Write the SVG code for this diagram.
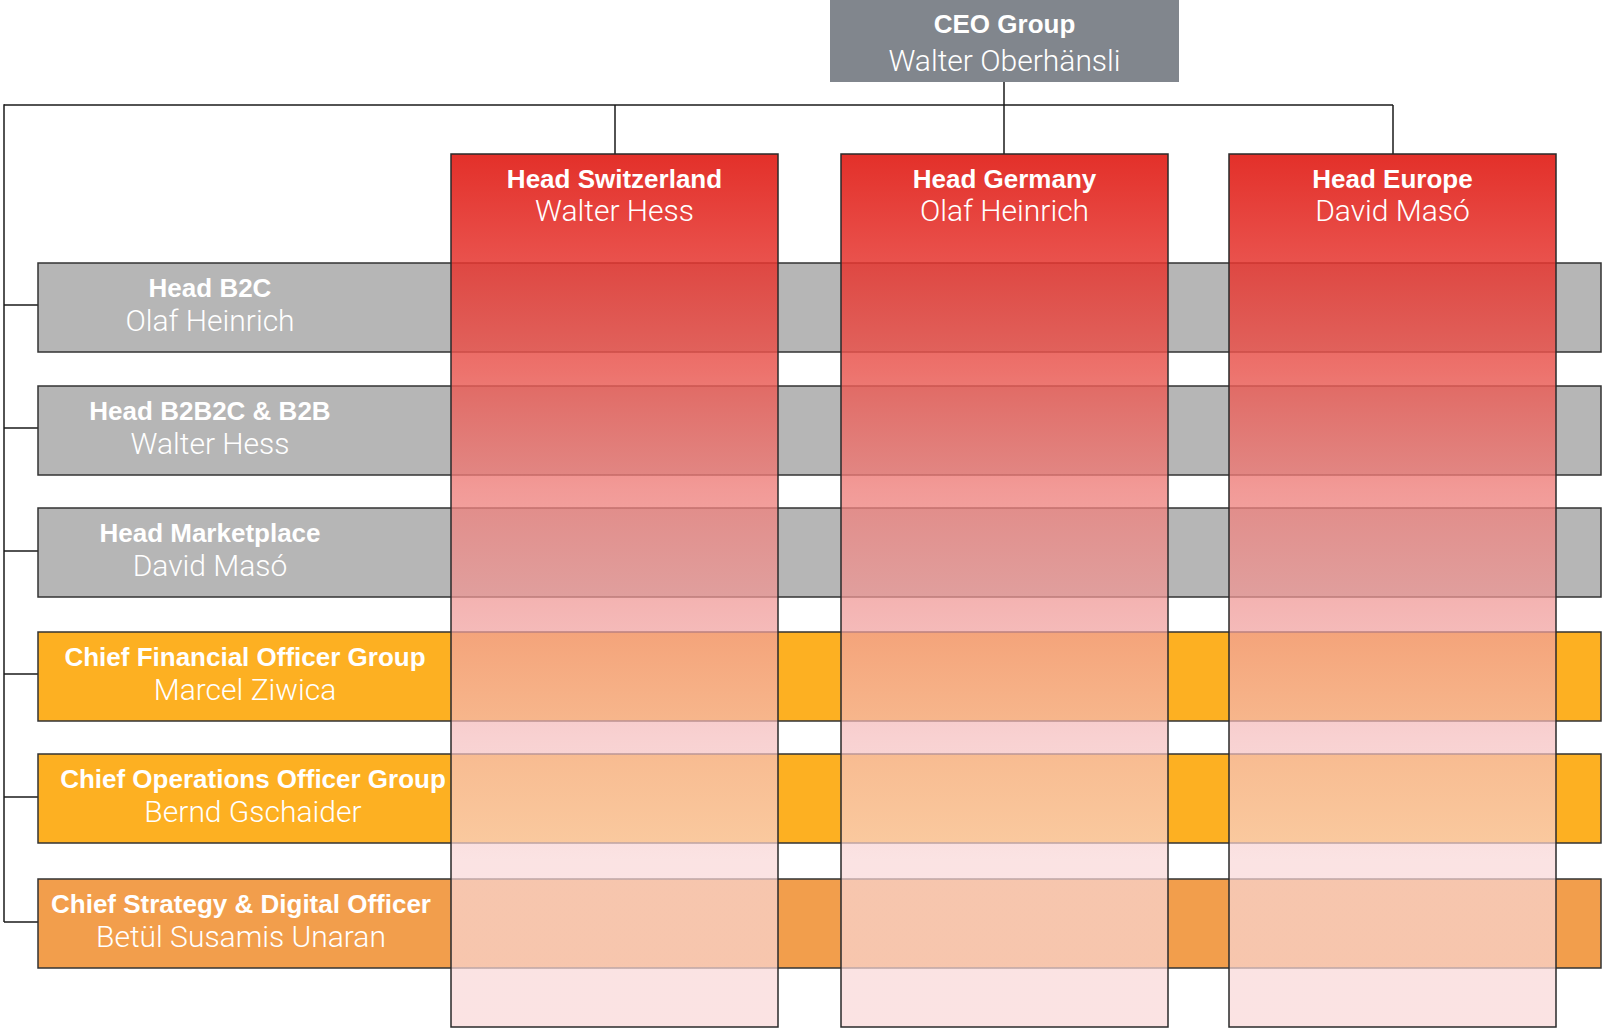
<svg xmlns="http://www.w3.org/2000/svg" width="1603" height="1033" viewBox="0 0 1603 1033">
  <defs>
    <linearGradient id="colGrad" x1="0" y1="0" x2="0" y2="1">
      <stop offset="0" stop-color="#E01912" stop-opacity="0.9"/>
      <stop offset="0.116" stop-color="#E5332D" stop-opacity="0.86"/>
      <stop offset="0.247" stop-color="#E95750" stop-opacity="0.84"/>
      <stop offset="0.386" stop-color="#EE7E7A" stop-opacity="0.78"/>
      <stop offset="0.527" stop-color="#F09A98" stop-opacity="0.72"/>
      <stop offset="0.668" stop-color="#F5BDBD" stop-opacity="0.7"/>
      <stop offset="0.809" stop-color="#F9D7D7" stop-opacity="0.7"/>
      <stop offset="1" stop-color="#F9D7D7" stop-opacity="0.7"/>
    </linearGradient>
    <style>
      .conn { stroke: #1a1a1a; stroke-width: 1.5; fill: none; }
      .box { stroke: #333333; stroke-width: 1.5; }
      .gray { fill: #B6B6B6; }
      .orange { fill: #FDB022; }
      .dorange { fill: #F29E4C; }
      .ceo { fill: #81868D; }
      .col { fill: url(#colGrad); stroke: #2a2a2a; stroke-width: 1.5; }
      .t { font-family: "Liberation Sans", Arial, sans-serif; font-weight: bold; font-size: 26px; fill: #ffffff; text-anchor: middle; }
      .n { font-family: Roboto, "Liberation Sans", sans-serif; font-weight: 300; font-size: 30px; fill: #ffffff; text-anchor: middle; }
    </style>
  </defs>

  <g id="connectors">
    <line class="conn" x1="4" y1="105" x2="1393" y2="105"/>
    <line class="conn" x1="1004" y1="82" x2="1004" y2="154"/>
    <line class="conn" x1="615" y1="105" x2="615" y2="154"/>
    <line class="conn" x1="1393" y1="105" x2="1393" y2="154"/>
    <line class="conn" x1="4" y1="104.25" x2="4" y2="922"/>
    <line class="conn" x1="4" y1="305" x2="38" y2="305"/>
    <line class="conn" x1="4" y1="428" x2="38" y2="428"/>
    <line class="conn" x1="4" y1="551" x2="38" y2="551"/>
    <line class="conn" x1="4" y1="674" x2="38" y2="674"/>
    <line class="conn" x1="4" y1="797" x2="38" y2="797"/>
    <line class="conn" x1="4" y1="922" x2="38" y2="922"/>
  </g>

  <g id="head-b2c">
    <rect class="box gray" x="38" y="263" width="1563" height="89"/>
    <text class="t" x="210" y="297">Head B2C</text>
    <text class="n" x="210" y="331">Olaf Heinrich</text>
  </g>
  <g id="head-b2b2c">
    <rect class="box gray" x="38" y="386" width="1563" height="89"/>
    <text class="t" x="210" y="420">Head B2B2C &amp; B2B</text>
    <text class="n" x="210" y="454">Walter Hess</text>
  </g>
  <g id="head-marketplace">
    <rect class="box gray" x="38" y="508" width="1563" height="89"/>
    <text class="t" x="210" y="542">Head Marketplace</text>
    <text class="n" x="210" y="576">David Masó</text>
  </g>
  <g id="cfo">
    <rect class="box orange" x="38" y="632" width="1563" height="89"/>
    <text class="t" x="245" y="666">Chief Financial Officer Group</text>
    <text class="n" x="245" y="700">Marcel Ziwica</text>
  </g>
  <g id="coo">
    <rect class="box orange" x="38" y="754" width="1563" height="89"/>
    <text class="t" x="253" y="788">Chief Operations Officer Group</text>
    <text class="n" x="253" y="822">Bernd Gschaider</text>
  </g>
  <g id="csdo">
    <rect class="box dorange" x="38" y="879" width="1563" height="89"/>
    <text class="t" x="241" y="913">Chief Strategy &amp; Digital Officer</text>
    <text class="n" x="241" y="947">Betül Susamis Unaran</text>
  </g>

  <g id="head-switzerland">
    <rect class="col" x="451" y="154" width="327" height="873"/>
    <text class="t" x="614.5" y="188">Head Switzerland</text>
    <text class="n" x="614.5" y="221">Walter Hess</text>
  </g>
  <g id="head-germany">
    <rect class="col" x="841" y="154" width="327" height="873"/>
    <text class="t" x="1004.5" y="188">Head Germany</text>
    <text class="n" x="1004.5" y="221">Olaf Heinrich</text>
  </g>
  <g id="head-europe">
    <rect class="col" x="1229" y="154" width="327" height="873"/>
    <text class="t" x="1392.5" y="188">Head Europe</text>
    <text class="n" x="1392.5" y="221">David Masó</text>
  </g>

  <g id="ceo">
    <rect class="ceo" x="830" y="0" width="349" height="82"/>
    <text class="t" x="1004.5" y="33">CEO Group</text>
    <text class="n" x="1004.5" y="71">Walter Oberhänsli</text>
  </g>
</svg>
